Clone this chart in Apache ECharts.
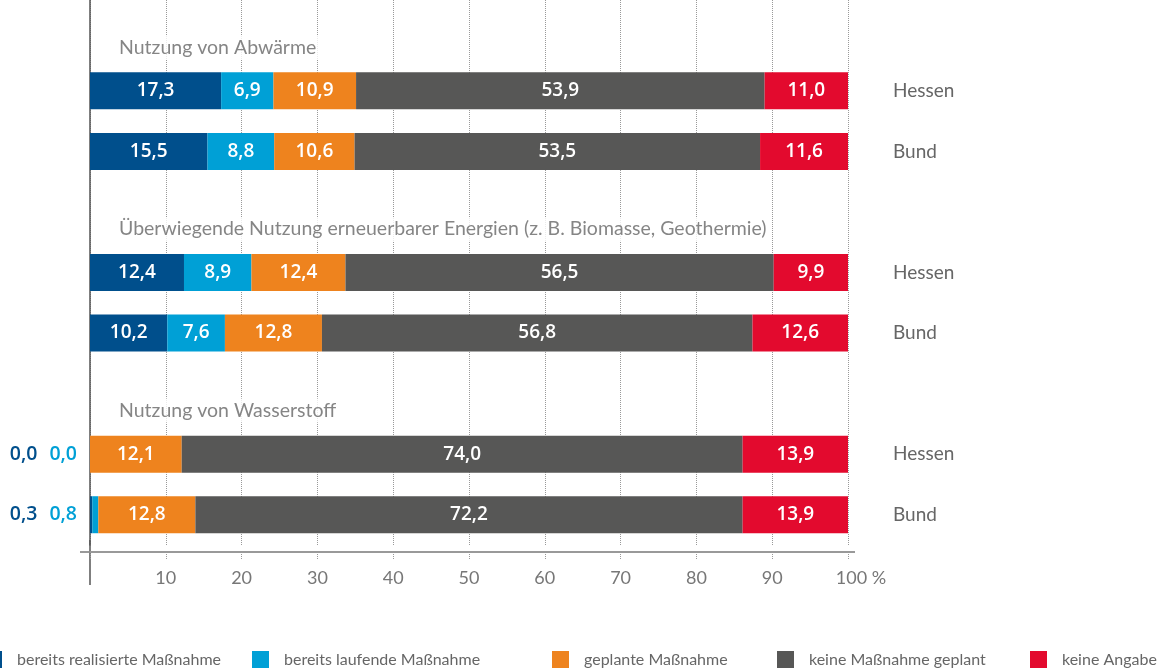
<!DOCTYPE html>
<html>
<head>
<meta charset="utf-8">
<script src="https://cdn.jsdelivr.net/npm/echarts@6/dist/echarts.min.js"></script>
<style>
  html, body { margin: 0; padding: 0; background: #fff; }
  #app { width: 1157px; height: 671px; }
</style>
</head>
<body>
<div id="app"></div>
<script>
// Zeilen: Titel, Hessen, Bund je Gruppe
const rows = ['t1', 'Hessen', 'Bund', 't2', 'Hessen', 'Bund', 't3', 'Hessen', 'Bund'];
const titles = [
  'Nutzung von Abwärme',
  'Überwiegende Nutzung erneuerbarer Energien (z. B. Biomasse, Geothermie)',
  'Nutzung von Wasserstoff'
];
const titleRows = [0, 3, 6];

const realisiert = [null, 17.3, 15.5, null, 12.4, 10.2, null, 0.0, 0.3];
const laufend    = [null, 6.9, 8.8, null, 8.9, 7.6, null, 0.0, 0.8];
const geplant    = [null, 10.9, 10.6, null, 12.4, 12.8, null, 12.1, 12.8];
const keine      = [null, 53.9, 53.5, null, 56.5, 56.8, null, 74.0, 72.2];
const angabe     = [null, 11.0, 11.6, null, 9.9, 12.6, null, 13.9, 13.9];

const seriesNames = ['bereits realisierte Maßnahme', 'bereits laufende Maßnahme', 'geplante Maßnahme', 'keine Maßnahme geplant', 'keine Angabe'];
const colors = ['#004f8c', '#00a0d6', '#ee831e', '#575756', '#e30a2e'];
const values = [realisiert, laufend, geplant, keine, angabe];

const fmt = v => v.toFixed(1).replace('.', ',');
const FONT = 'Lato';
const LBL = 'Open Sans';

const myChart = echarts.init(document.getElementById('app'));

const barSeries = values.map((arr, k) => ({
  name: seriesNames[k],
  type: 'bar',
  stack: 'total',
  barWidth: 37,
  itemStyle: { color: colors[k] },
  label: {
    show: true,
    position: 'inside',
    color: '#fff',
    fontFamily: LBL,
    fontWeight: 600,
    fontSize: 19,
    formatter: p => fmt(p.value)
  },
  data: arr.map(v => v == null ? null : { value: v, label: { show: v >= 3 } })
}));

const legendLefts = [-15, 252, 552, 777, 1030];
const legends = seriesNames.map((n, k) => ({
  data: [n],
  left: legendLefts[k],
  top: 651,
  padding: 0,
  icon: 'rect',
  itemWidth: 17,
  itemHeight: 17,
  selectedMode: false,
  textStyle: { color: '#666', fontSize: 16, fontFamily: FONT, padding: [0, 0, 2, 10] }
}));

const option = {
  animation: false,
  grid: { left: 90, right: 309, top: -2, bottom: 126 },
  legend: legends,
  xAxis: {
    type: 'value',
    min: 0,
    max: 100,
    interval: 10,
    offset: 7,
    axisLine: { show: true, lineStyle: { color: '#999', width: 2 } },
    axisTick: { show: true, length: 7, lineStyle: { color: '#999', type: 'dotted' } },
    splitLine: { show: true, lineStyle: { color: '#999', type: 'dotted' } },
    axisLabel: {
      color: '#777',
      fontSize: 18,
      fontFamily: FONT,
      margin: 17,
      formatter: v => v === 0 ? '' : (v === 100 ? '{s|}100 %' : String(v)),
      rich: { s: { width: 26 } }
    }
  },
  yAxis: [{
    type: 'category',
    inverse: true,
    data: rows,
    axisLine: { show: true, lineStyle: { color: '#555', width: 1.5 } },
    axisTick: { show: false },
    axisLabel: {
      margin: 13,
      formatter: (v, i) => i >= 7 ? '{a|' + fmt(realisiert[i]) + '}{g|}{b|' + fmt(laufend[i]) + '}' : '',
      rich: {
        a: { color: '#004f8c', fontWeight: 600, fontSize: 19.5, fontFamily: LBL },
        g: { width: 12 },
        b: { color: '#00a0d6', fontWeight: 600, fontSize: 19.5, fontFamily: LBL }
      }
    }
  }, {
    type: 'category',
    inverse: true,
    position: 'right',
    data: rows,
    axisLine: { show: false },
    axisTick: { show: false },
    axisLabel: {
      margin: 45,
      color: '#666',
      fontSize: 19,
      fontFamily: FONT,
      formatter: v => v.charAt(0) === 't' ? '' : v
    }
  }],
  series: barSeries.concat([{
    type: 'scatter',
    silent: true,
    symbolSize: 0,
    z: 5,
    label: {
      show: true,
      position: 'right',
      offset: [22, 17],
      color: '#666',
      fontSize: 19.5,
      fontFamily: FONT,
      backgroundColor: '#fff',
      padding: [2, 2],
      formatter: p => p.name
    },
    data: titleRows.map((r, k) => ({ name: titles[k], value: [0, r] }))
  }]),
  graphic: [{
    type: 'line',
    shape: { x1: 90, y1: 540, x2: 90, y2: 585 },
    style: { stroke: '#555', lineWidth: 1.5 },
    silent: true
  }, {
    type: 'line',
    shape: { x1: 80, y1: 552, x2: 855, y2: 552 },
    style: { stroke: '#999', lineWidth: 2 },
    silent: true,
    z: -1
  }]
};

myChart.setOption(option);
</script>
</body>
</html>
